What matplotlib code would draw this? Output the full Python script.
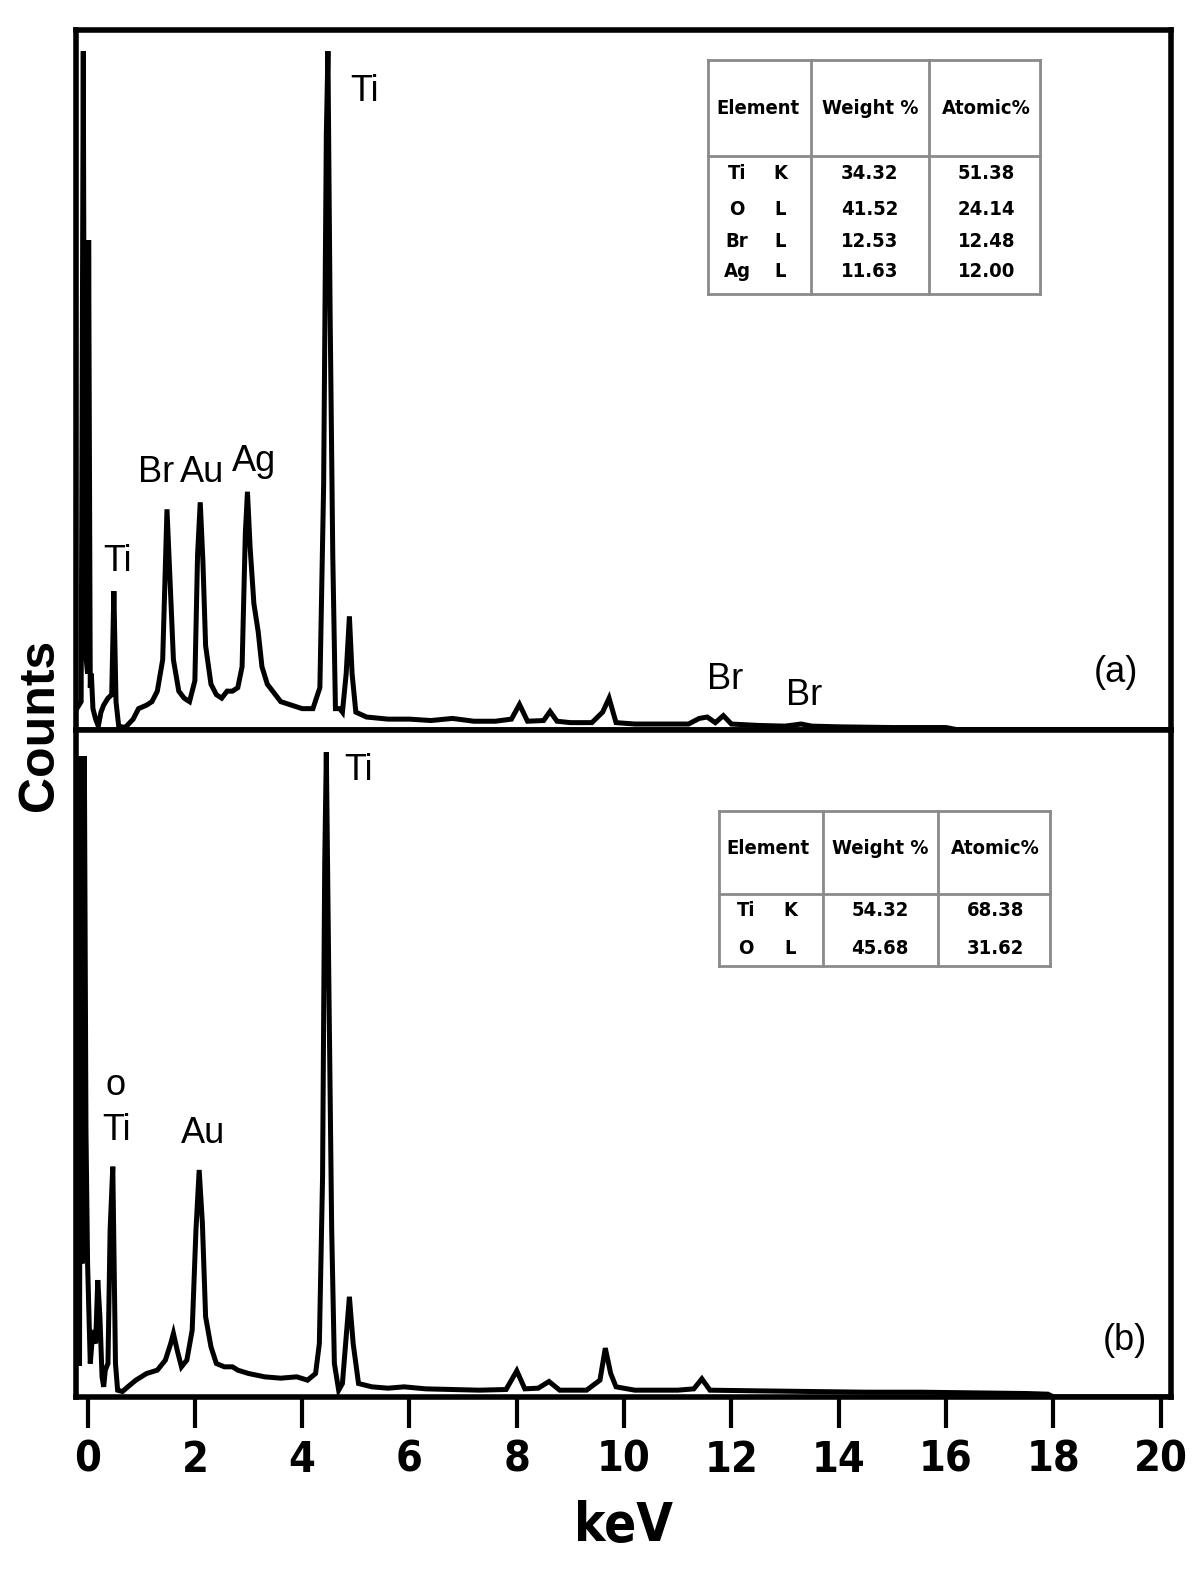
import matplotlib
matplotlib.use("Agg")
import matplotlib.pyplot as plt
from matplotlib.lines import Line2D
from matplotlib import font_manager

# ---------------- data ----------------
kev_a = [-0.2, -0.12, -0.08, -0.05, 0.0, 0.02, 0.05, 0.07, 0.1, 0.15, 0.2, 0.25, 0.3, 0.38, 0.45,
         0.49, 0.53, 0.58, 0.7, 0.85, 0.95, 1.1, 1.2, 1.3, 1.4, 1.48, 1.55, 1.6, 1.7, 1.8, 1.9,
         2.0, 2.05, 2.1, 2.15, 2.2, 2.3, 2.4, 2.5, 2.6, 2.7, 2.8, 2.88, 2.94, 2.98, 3.03, 3.1,
         3.18, 3.25, 3.35, 3.5, 3.6, 3.8, 4.0, 4.2, 4.33, 4.4, 4.45, 4.48, 4.52, 4.57, 4.62,
         4.7, 4.75, 4.82, 4.88, 4.93, 5.0, 5.2, 5.6, 6.0, 6.4, 6.8, 7.2, 7.6, 7.9, 8.05, 8.2,
         8.5, 8.62, 8.75, 9.0, 9.4, 9.6, 9.72, 9.85, 10.2, 10.8, 11.2, 11.4, 11.55, 11.7, 11.85,
         12.0, 12.5, 13.0, 13.3, 13.5, 14.0, 15.0, 16.0, 16.2, 20.2]
counts_a = [3, 4, 97, 12, 8, 70, 6, 8, 3, 1.5, 0.5, 2.5, 3.5, 4.5, 5,
            19.8, 4, 0.5, 0.3, 1.5, 3, 3.5, 4, 5.5, 10, 31.5, 19, 10, 5.5, 4.5, 4,
            7, 25, 32.5, 24, 12, 6.5, 5, 4.5, 5.5, 5.5, 6, 9, 28, 34, 26, 18,
            14, 9, 6.5, 5, 4, 3.5, 3, 3, 6, 35, 85, 97, 60, 25, 3,
            3, 2.5, 8, 16.2, 8, 2.5, 1.8, 1.5, 1.5, 1.3, 1.6, 1.2, 1.2, 1.5, 3.6, 1.2,
            1.3, 2.6, 1.2, 1.0, 1.0, 2.5, 4.5, 1.0, 0.8, 0.8, 0.8, 1.6, 1.8, 1.0, 2.0,
            0.8, 0.6, 0.5, 0.8, 0.5, 0.4, 0.3, 0.3, 0, 0]

kev_b = [-0.2, -0.15, -0.13, -0.1, -0.06, -0.03, 0.0, 0.05, 0.1, 0.15, 0.19, 0.23, 0.27, 0.3, 0.33,
         0.38, 0.42, 0.47, 0.52, 0.56, 0.65, 0.75, 0.9, 1.1, 1.3, 1.45, 1.55, 1.6, 1.67, 1.75,
         1.85, 1.95, 2.02, 2.08, 2.14, 2.2, 2.3, 2.4, 2.55, 2.7, 2.8, 3.0, 3.3, 3.6, 3.9, 4.1,
         4.25, 4.32, 4.38, 4.42, 4.45, 4.5, 4.55, 4.6, 4.68, 4.75, 4.82, 4.88, 4.95, 5.05, 5.3,
         5.6, 5.9, 6.3, 6.8, 7.3, 7.8, 8.0, 8.15, 8.4, 8.6, 8.8, 9.3, 9.55, 9.65, 9.75, 9.85,
         10.2, 11.0, 11.3, 11.45, 11.6, 12.5, 13.5, 14.5, 15.5, 16.5, 17.5, 17.9, 18.0, 20.2]
counts_b = [5, 5, 96, 20, 96, 40, 20, 5, 10, 8, 17.5, 12, 3, 1.5, 4,
            5, 25, 34.5, 5, 1, 0.8, 1.5, 2.5, 3.5, 4, 5.5, 8, 9.5, 7, 4.5,
            5.5, 10, 25, 34, 26, 12, 7.5, 5, 4.5, 4.5, 4, 3.5, 3, 2.8, 3, 2.5,
            3.5, 8, 33, 80, 96.6, 60, 25, 5, 1, 2, 9, 15, 8, 2, 1.5,
            1.3, 1.5, 1.2, 1.1, 1.0, 1.1, 3.9, 1.2, 1.3, 2.3, 1.0, 1.0, 2.5, 7.3, 3.5, 1.5,
            1.0, 1.0, 1.2, 2.7, 1.0, 0.9, 0.8, 0.7, 0.7, 0.6, 0.5, 0.4, 0, 0]

xticks = [0, 2, 4, 6, 8, 10, 12, 14, 16, 18, 20]

table_header = ["Element", "Weight %", "Atomic%"]
table_a_elem = [("Ti", "K"), ("O", "L"), ("Br", "L"), ("Ag", "L")]
table_a_weight = ["34.32", "41.52", "12.53", "11.63"]
table_a_atomic = ["51.38", "24.14", "12.48", "12.00"]
table_b_elem = [("Ti", "K"), ("O", "L")]
table_b_weight = ["54.32", "45.68"]
table_b_atomic = ["68.38", "31.62"]

labels_a = [("Ti", 5.16, 91.3), ("Br", 1.28, 36.8), ("Au", 2.14, 36.8), ("Ag", 3.11, 38.3),
            ("Ti", 0.56, 24.1), ("Br", 11.88, 7.2), ("Br", 13.36, 4.9), ("(a)", 19.16, 8.2)]
labels_b = [("Ti", 5.05, 93.8), ("o", 0.53, 46.6), ("Ti", 0.53, 39.9), ("Au", 2.16, 39.5),
            ("(b)", 19.34, 8.5)]

# ---------------- fonts ----------------
avail = {f.name for f in font_manager.fontManager.ttflist}
sans = "Liberation Sans" if "Liberation Sans" in avail else "DejaVu Sans"
cond = dict(family="DejaVu Sans", fontstretch="condensed", fontweight="bold")

W, H = 1200, 1578
fig = plt.figure(figsize=(W / 100, H / 100), dpi=100)

# positions measured on a 1192x1568 view
VW, VH = 1192, 1568


def fx(x):
    return x / VW


def fy(y):
    return 1 - y / VH


L, R = 75, 1163
ax_a = fig.add_axes([fx(L), fy(725), fx(R) - fx(L), fy(30) - fy(725)])
ax_b = fig.add_axes([fx(L), fy(1388), fx(R) - fx(L), fy(725) - fy(1388)])

for ax, kv, ct, labs in [(ax_a, kev_a, counts_a, labels_a), (ax_b, kev_b, counts_b, labels_b)]:
    ax.plot(kv, ct, color="black", lw=3.6, solid_joinstyle="miter")
    ax.set_xlim(-0.225, 20.19)
    ax.set_ylim(0, 100)
    ax.set_yticks([])
    for s in ax.spines.values():
        s.set_linewidth(4)
    for t, x, y in labs:
        ax.text(x, y, t, ha="center", va="center", fontsize=26, family=sans)

ax_a.set_xticks([])
ax_b.set_xticks(xticks)
ax_b.set_xticklabels([str(v) for v in xticks], fontsize=31, **cond)
ax_b.tick_params(axis="x", direction="out", length=22, width=3, pad=8)
ax_b.set_xlabel("keV", fontsize=38, labelpad=14, **cond)

fig.text(fx(40), fy(720), "Counts", rotation=90, ha="center", va="center",
         fontsize=36, fontweight="bold", family=sans)


# ---------------- tables ----------------
def draw_table(x0, x1, y0, yh, y1, vcols, cols_x, hdr_y, rows_y, elem_x, elems, weights, atomics):
    grey = "#8a8a8a"
    for (xa, ya, xb, yb) in [(x0, y0, x1, y0), (x0, y1, x1, y1), (x0, yh, x1, yh),
                             (x0, y0, x0, y1), (x1, y0, x1, y1)] + \
            [(v, y0, v, y1) for v in vcols]:
        fig.add_artist(Line2D([fx(xa), fx(xb)], [fy(ya), fy(yb)], color=grey, lw=2.0,
                              transform=fig.transFigure))
    kw = dict(ha="center", va="center", fontsize=14.5, **cond)
    for t, cx in zip(table_header, cols_x):
        fig.text(fx(cx), fy(hdr_y), t, **kw)
    for ry, (e, sh), w, a in zip(rows_y, elems, weights, atomics):
        fig.text(fx(elem_x[0]), fy(ry), e, **kw)
        fig.text(fx(elem_x[1]), fy(ry), sh, **kw)
        fig.text(fx(cols_x[1]), fy(ry), w, **kw)
        fig.text(fx(cols_x[2]), fy(ry), a, **kw)


draw_table(703, 1033, 60, 155, 292, [806, 923], [753, 864, 980], 108,
           [172, 208, 240, 270], [732, 775], table_a_elem, table_a_weight, table_a_atomic)
draw_table(714, 1043, 806, 888, 960, [818, 932], [763, 874, 989], 843,
           [905, 942], [741, 785], table_b_elem, table_b_weight, table_b_atomic)

fig.savefig("out.png", dpi=100)
